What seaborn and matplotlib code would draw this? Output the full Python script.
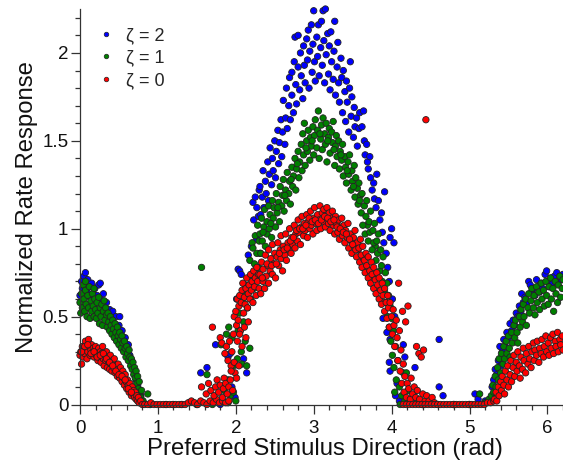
import matplotlib
matplotlib.use("Agg")
import matplotlib.pyplot as plt
from matplotlib.lines import Line2D
from matplotlib.ticker import MultipleLocator, FuncFormatter
import seaborn as sns
import pandas as pd

# Measured responses (preferred direction in rad, normalized rate) for each zeta
zeta2_points = [
    (0.00, 0.62), (0.02, 0.70), (0.03, 0.66), (0.05, 0.73), (0.06, 0.68), (0.07, 0.75), (0.09, 0.64),
    (0.10, 0.71), (0.12, 0.67), (0.13, 0.61), (0.15, 0.69), (0.17, 0.63), (0.19, 0.66), (0.20, 0.59),
    (0.22, 0.62), (0.24, 0.68), (0.26, 0.60), (0.28, 0.57), (0.30, 0.63), (0.32, 0.55), (0.34, 0.58),
    (0.36, 0.52), (0.38, 0.54), (0.40, 0.49), (0.42, 0.53), (0.44, 0.46), (0.46, 0.50), (0.48, 0.43),
    (0.50, 0.45), (0.52, 0.40), (0.54, 0.42), (0.56, 0.36), (0.58, 0.38), (0.60, 0.32), (0.62, 0.34),
    (0.64, 0.28), (0.66, 0.25), (0.68, 0.21), (0.70, 0.18), (0.72, 0.14), (0.74, 0.11), (0.76, 0.08),
    (0.78, 0.05), (0.80, 0.02), (0.26, 0.69), (0.51, 0.50),
    (0.90, 0.00), (1.20, 0.00), (1.50, 0.00), (1.80, 0.00),
    (1.55, 0.18), (1.63, 0.21), (1.74, 0.34),
    (1.90, 0.27), (1.93, 0.29), (1.95, 0.10), (1.99, 0.04), (2.01, 0.60), (2.03, 0.77), (2.05, 0.76),
    (2.07, 0.74), (2.10, 0.26), (2.14, 0.18), (2.12, 0.68), (2.16, 0.85), (2.20, 0.90), (2.22, 1.15),
    (2.23, 1.05), (2.25, 1.18), (2.27, 1.12), (2.27, 0.94), (2.29, 1.07), (2.31, 0.86), (2.30, 1.22),
    (2.31, 1.24), (2.32, 1.08), (2.34, 1.18), (2.35, 1.33), (2.36, 1.12), (2.38, 1.27), (2.39, 1.20),
    (2.41, 1.38), (2.42, 1.16), (2.43, 1.31), (2.44, 1.46), (2.46, 1.25), (2.47, 1.40), (2.48, 1.33),
    (2.50, 1.50), (2.51, 1.29), (2.52, 1.44), (2.54, 1.56), (2.55, 1.37), (2.56, 1.49), (2.58, 1.62),
    (2.59, 1.41), (2.60, 1.55), (2.61, 1.73), (2.63, 1.48), (2.64, 1.63), (2.65, 1.80), (2.66, 1.57),
    (2.68, 1.70), (2.69, 1.86), (2.70, 1.62), (2.72, 1.89), (2.72, 1.76), (2.74, 1.66), (2.75, 1.95),
    (2.76, 2.09), (2.77, 1.82), (2.78, 1.71), (2.80, 2.10), (2.80, 1.92), (2.82, 1.79), (2.83, 2.00),
    (2.84, 1.87), (2.86, 1.74), (2.87, 2.04), (2.88, 1.93), (2.89, 1.83), (2.91, 2.08), (2.92, 1.96),
    (2.93, 2.13), (2.94, 1.80), (2.95, 2.01), (2.97, 2.16), (2.98, 1.89), (2.99, 2.05), (3.00, 2.24),
    (3.01, 1.95), (3.02, 1.84), (3.04, 2.09), (3.05, 1.98), (3.06, 2.16), (3.07, 1.87), (3.09, 2.03),
    (3.10, 2.18), (3.11, 1.93), (3.12, 2.24), (3.13, 2.07), (3.14, 1.83), (3.15, 2.25), (3.16, 1.99),
    (3.18, 2.11), (3.19, 1.88), (3.20, 2.04), (3.21, 1.79), (3.22, 2.12), (3.23, 1.95), (3.25, 1.85),
    (3.26, 2.01), (3.27, 2.18), (3.28, 1.76), (3.30, 1.92), (3.31, 2.06), (3.32, 1.83), (3.33, 1.72),
    (3.35, 1.97), (3.36, 1.86), (3.37, 1.66), (3.38, 1.90), (3.40, 1.78), (3.41, 1.61), (3.42, 1.84),
    (3.43, 1.72), (3.45, 1.55), (3.46, 1.80), (3.47, 1.95), (3.48, 1.64), (3.49, 1.75), (3.51, 1.52),
    (3.52, 1.69), (3.53, 1.58), (3.55, 1.63), (3.56, 1.47), (3.58, 1.57), (3.59, 1.66),
    (3.62, 1.58), (3.64, 1.67), (3.65, 1.50), (3.66, 1.42), (3.68, 1.48), (3.69, 1.38), (3.70, 1.34),
    (3.72, 1.41), (3.73, 1.29), (3.75, 1.22), (3.77, 1.26), (3.78, 1.17), (3.80, 1.12), (3.81, 1.31),
    (3.83, 1.16), (3.85, 1.05), (3.87, 1.09), (3.88, 0.98), (3.90, 0.92), (3.91, 1.21), (3.93, 0.86),
    (3.95, 0.78), (3.97, 0.70), (3.98, 0.95), (4.00, 1.00), (4.01, 0.60), (4.03, 0.92), (4.04, 0.50),
    (3.89, 0.49), (3.94, 0.41), (3.98, 0.37), (3.97, 0.24), (3.98, 0.19), (4.05, 0.05), (4.15, 0.34),
    (4.17, 0.27), (4.30, 0.21), (4.07, 0.12), (4.10, 0.02),
    (4.61, 0.37), (4.61, 0.10), (4.66, 0.05), (4.40, 0.00), (4.80, 0.00), (5.00, 0.00), (5.07, 0.06),
    (5.11, 0.03), (5.20, 0.02),
    (5.29, 0.10), (5.31, 0.14), (5.33, 0.20), (5.35, 0.17), (5.37, 0.25), (5.39, 0.33), (5.40, 0.22),
    (5.42, 0.30), (5.44, 0.37), (5.46, 0.33), (5.48, 0.41), (5.50, 0.38), (5.52, 0.46), (5.54, 0.42),
    (5.56, 0.48), (5.58, 0.45), (5.60, 0.52), (5.62, 0.50), (5.64, 0.56), (5.66, 0.53), (5.67, 0.63),
    (5.69, 0.58), (5.71, 0.61), (5.73, 0.57), (5.76, 0.70), (5.78, 0.68), (5.80, 0.64), (5.82, 0.66),
    (5.84, 0.62), (5.86, 0.71), (5.88, 0.67), (5.90, 0.64), (5.92, 0.69), (5.94, 0.66), (5.97, 0.74),
    (5.99, 0.76), (6.01, 0.70), (6.03, 0.67), (6.05, 0.72), (6.07, 0.69), (6.09, 0.73), (6.12, 0.75),
    (6.14, 0.70), (6.16, 0.73), (6.18, 0.71), (6.20, 0.74),
]

zeta1_points = [
    (0.00, 0.58), (0.01, 0.52), (0.02, 0.63), (0.03, 0.55), (0.04, 0.68), (0.05, 0.60), (0.06, 0.53),
    (0.07, 0.65), (0.08, 0.57), (0.09, 0.50), (0.10, 0.62), (0.11, 0.55), (0.12, 0.67), (0.13, 0.49),
    (0.14, 0.59), (0.15, 0.53), (0.16, 0.63), (0.17, 0.56), (0.18, 0.50), (0.19, 0.60), (0.20, 0.54),
    (0.21, 0.49), (0.22, 0.58), (0.23, 0.52), (0.24, 0.61), (0.25, 0.46), (0.26, 0.55), (0.27, 0.50),
    (0.28, 0.57), (0.29, 0.45), (0.30, 0.53), (0.31, 0.59), (0.32, 0.48), (0.33, 0.55), (0.34, 0.51),
    (0.35, 0.44), (0.36, 0.52), (0.37, 0.47), (0.38, 0.42), (0.39, 0.50), (0.40, 0.45), (0.41, 0.40),
    (0.42, 0.48), (0.43, 0.43), (0.44, 0.38), (0.45, 0.46), (0.46, 0.41), (0.47, 0.36), (0.48, 0.44),
    (0.49, 0.39), (0.50, 0.34), (0.51, 0.41), (0.52, 0.37), (0.53, 0.32), (0.54, 0.39), (0.55, 0.35),
    (0.56, 0.30), (0.57, 0.36), (0.58, 0.32), (0.59, 0.27), (0.60, 0.33), (0.61, 0.29), (0.62, 0.25),
    (0.63, 0.31), (0.64, 0.27), (0.65, 0.22), (0.66, 0.26), (0.67, 0.20), (0.68, 0.24), (0.69, 0.17),
    (0.70, 0.21), (0.71, 0.15), (0.72, 0.19), (0.73, 0.12), (0.74, 0.16), (0.75, 0.09), (0.76, 0.13),
    (0.77, 0.06), (0.78, 0.04), (0.79, 0.08), (0.81, 0.02), (0.87, 0.06), (0.18, 0.66), (0.07, 0.70),
    (0.90, 0.00), (1.10, 0.00), (1.30, 0.00), (1.50, 0.00), (1.70, 0.00), (1.90, 0.01),
    (1.56, 0.78), (1.63, 0.17),
    (1.81, 0.34), (1.85, 0.08), (1.88, 0.40), (1.90, 0.14), (1.91, 0.44), (1.93, 0.05), (1.95, 0.38),
    (1.97, 0.07), (1.97, 0.22), (2.00, 0.02), (2.02, 0.26), (2.03, 0.42), (2.05, 0.52), (2.07, 0.30),
    (2.08, 0.23), (2.09, 0.58), (2.10, 0.47), (2.12, 0.62), (2.14, 0.22), (2.15, 0.55), (2.17, 0.68),
    (2.18, 0.82), (2.19, 0.60), (2.20, 0.73), (2.21, 0.92), (2.22, 0.89), (2.23, 0.66), (2.24, 0.80),
    (2.25, 0.96), (2.26, 0.72), (2.27, 0.86), (2.28, 1.02), (2.29, 0.78), (2.30, 0.93), (2.18, 0.32),
    (2.12, 0.36),
    (2.31, 0.97), (2.32, 0.86), (2.33, 1.06), (2.34, 0.93), (2.36, 1.01), (2.37, 1.11), (2.38, 0.90),
    (2.40, 1.04), (2.40, 0.97), (2.42, 1.13), (2.43, 1.00), (2.44, 1.08), (2.46, 0.95), (2.47, 1.16),
    (2.48, 1.06), (2.49, 1.12), (2.51, 1.01), (2.52, 1.20), (2.53, 1.09), (2.55, 1.15), (2.56, 1.04),
    (2.57, 1.24), (2.59, 1.13), (2.60, 1.19), (2.61, 1.28), (2.62, 1.10), (2.64, 1.22), (2.65, 1.16),
    (2.66, 1.32), (2.68, 1.20), (2.69, 1.27), (2.70, 1.14), (2.72, 1.35), (2.73, 1.24), (2.74, 1.30),
    (2.76, 1.40), (2.77, 1.22), (2.78, 1.34), (2.80, 1.44), (2.81, 1.29), (2.82, 1.38), (2.84, 1.48),
    (2.85, 1.33), (2.86, 1.54), (2.87, 1.42), (2.88, 1.60), (2.89, 1.36), (2.91, 1.50), (2.92, 1.44),
    (2.93, 1.56), (2.95, 1.39), (2.96, 1.52), (2.97, 1.47), (2.99, 1.58), (3.00, 1.42), (3.01, 1.53),
    (3.02, 1.62), (3.04, 1.46), (3.05, 1.56), (3.06, 1.67), (3.07, 1.40), (3.09, 1.51), (3.10, 1.59),
    (3.11, 1.45), (3.12, 1.63), (3.14, 1.54), (3.15, 1.48), (3.16, 1.60), (3.17, 1.38), (3.19, 1.52),
    (3.20, 1.57), (3.21, 1.43), (3.23, 1.55), (3.24, 1.49), (3.25, 1.61), (3.27, 1.36), (3.28, 1.47),
    (3.29, 1.53), (3.30, 1.41), (3.32, 1.50), (3.33, 1.34), (3.34, 1.44), (3.36, 1.39), (3.37, 1.48),
    (3.38, 1.30), (3.40, 1.41), (3.41, 1.35), (3.42, 1.26), (3.44, 1.38), (3.45, 1.31), (3.46, 1.42),
    (3.48, 1.22), (3.49, 1.33), (3.50, 1.27), (3.52, 1.36), (3.53, 1.18), (3.54, 1.29), (3.56, 1.23),
    (3.57, 1.14), (3.58, 1.26), (3.60, 1.19),
    (2.35, 0.98), (2.45, 1.03), (2.54, 1.12), (2.63, 1.19), (2.71, 1.28), (2.79, 1.37), (2.90, 1.46),
    (2.98, 1.50), (3.08, 1.54), (3.18, 1.50), (3.26, 1.45), (3.35, 1.42), (3.43, 1.33), (3.51, 1.24),
    (3.59, 1.16), (3.69, 1.02), (3.79, 0.90),
    (3.61, 1.09), (3.62, 1.20), (3.63, 1.02), (3.65, 1.13), (3.66, 0.97), (3.67, 1.07), (3.68, 1.16),
    (3.70, 0.93), (3.71, 1.04), (3.72, 0.98), (3.73, 1.10), (3.75, 0.88), (3.76, 0.99), (3.77, 0.92),
    (3.78, 1.03), (3.80, 0.82), (3.81, 0.93), (3.82, 0.86), (3.83, 0.97), (3.85, 0.76), (3.86, 0.88),
    (3.87, 0.79), (3.88, 0.70), (3.89, 0.84), (3.91, 0.64), (3.92, 0.75), (3.93, 0.58), (3.94, 0.69),
    (3.95, 0.50), (3.96, 0.62), (3.97, 0.44), (3.98, 0.56), (3.99, 0.36), (4.00, 0.49), (4.01, 0.28),
    (4.02, 0.42), (4.03, 0.21), (4.04, 0.07), (4.05, 0.33), (4.06, 0.14), (4.08, 0.25), (4.10, 0.10),
    (4.11, 0.00), (4.13, 0.05), (4.15, 0.18), (4.17, 0.02), (4.19, 0.18), (4.21, 0.08), (4.24, 0.03),
    (4.28, 0.05), (4.33, 0.02),
    (4.40, 0.00), (4.60, 0.00), (4.80, 0.00), (5.00, 0.00), (5.13, 0.06), (5.20, 0.01), (5.25, 0.03),
    (5.28, 0.05), (5.30, 0.11), (5.31, 0.07), (5.33, 0.16), (5.34, 0.10), (5.36, 0.21), (5.37, 0.14),
    (5.38, 0.26), (5.40, 0.18), (5.41, 0.29), (5.43, 0.23), (5.44, 0.33), (5.45, 0.26), (5.47, 0.36),
    (5.48, 0.29), (5.50, 0.39), (5.51, 0.32), (5.52, 0.27), (5.54, 0.41), (5.55, 0.35), (5.57, 0.45),
    (5.58, 0.38), (5.59, 0.48), (5.61, 0.41), (5.62, 0.35), (5.64, 0.50), (5.65, 0.44), (5.66, 0.54),
    (5.68, 0.47), (5.69, 0.57), (5.70, 0.50), (5.72, 0.60), (5.73, 0.45), (5.75, 0.55), (5.76, 0.63),
    (5.77, 0.52), (5.79, 0.59), (5.80, 0.66), (5.82, 0.55), (5.83, 0.62), (5.84, 0.51), (5.86, 0.67),
    (5.87, 0.58), (5.89, 0.64), (5.90, 0.54), (5.92, 0.69), (5.93, 0.60), (5.95, 0.65), (5.96, 0.56),
    (5.98, 0.70), (5.99, 0.62), (6.01, 0.57), (6.02, 0.67), (6.04, 0.72), (6.05, 0.60), (6.07, 0.66),
    (6.08, 0.53), (6.10, 0.70), (6.11, 0.63), (6.13, 0.58), (6.14, 0.68), (6.16, 0.73), (6.17, 0.61),
    (6.19, 0.66), (6.20, 0.71),
]

zeta0_points = [
    (0.00, 0.28), (0.01, 0.30), (0.02, 0.23), (0.03, 0.33), (0.04, 0.27), (0.05, 0.31), (0.06, 0.29),
    (0.07, 0.36), (0.08, 0.32), (0.09, 0.26), (0.10, 0.30), (0.11, 0.37), (0.12, 0.33), (0.13, 0.28),
    (0.14, 0.31), (0.15, 0.34), (0.16, 0.29), (0.17, 0.32), (0.18, 0.27), (0.19, 0.31), (0.20, 0.33),
    (0.21, 0.28), (0.22, 0.30), (0.23, 0.25), (0.24, 0.32), (0.25, 0.27), (0.26, 0.30), (0.27, 0.24),
    (0.28, 0.29), (0.29, 0.33), (0.30, 0.26), (0.31, 0.22), (0.32, 0.28), (0.33, 0.25), (0.34, 0.30),
    (0.35, 0.21), (0.36, 0.27), (0.37, 0.24), (0.38, 0.20), (0.39, 0.28), (0.40, 0.23), (0.41, 0.19),
    (0.42, 0.25), (0.43, 0.21), (0.44, 0.26), (0.45, 0.18), (0.46, 0.22), (0.47, 0.20), (0.48, 0.16),
    (0.49, 0.23), (0.50, 0.19), (0.51, 0.15), (0.52, 0.21), (0.53, 0.17), (0.54, 0.13), (0.55, 0.19),
    (0.56, 0.15), (0.57, 0.11), (0.58, 0.17), (0.59, 0.13), (0.60, 0.09), (0.61, 0.14), (0.62, 0.11),
    (0.63, 0.07), (0.64, 0.12), (0.65, 0.09), (0.66, 0.05), (0.67, 0.10), (0.68, 0.06), (0.69, 0.08),
    (0.70, 0.04), (0.71, 0.07), (0.72, 0.03), (0.73, 0.05), (0.74, 0.02), (0.75, 0.04), (0.76, 0.01),
    (0.78, 0.02), (0.80, 0.00),
    (0.02, 0.30), (0.06, 0.33), (0.10, 0.34), (0.14, 0.29), (0.18, 0.30), (0.22, 0.27), (0.26, 0.28),
    (0.30, 0.29), (0.34, 0.26), (0.38, 0.24), (0.42, 0.22), (0.46, 0.19), (0.50, 0.17), (0.54, 0.16),
    (0.58, 0.14), (0.62, 0.09), (0.66, 0.07),
    (0.83, 0.00), (0.87, 0.00), (0.91, 0.01), (0.95, 0.00), (0.99, 0.00), (1.03, 0.00), (1.07, 0.00),
    (1.11, 0.00), (1.15, 0.00), (1.19, 0.00), (1.23, 0.00), (1.27, 0.00), (1.31, 0.00), (1.35, 0.00),
    (1.39, 0.01), (1.43, 0.02), (1.47, 0.01), (1.51, 0.00), (1.55, 0.02), (1.59, 0.01), (1.63, 0.00),
    (1.67, 0.02), (1.71, 0.01), (1.75, 0.03), (1.79, 0.01), (1.83, 0.02), (1.87, 0.01), (1.91, 0.02),
    (1.56, 0.10), (1.62, 0.06), (1.65, 0.12), (1.68, 0.08), (1.70, 0.44), (1.72, 0.05), (1.74, 0.10),
    (1.76, 0.14), (1.78, 0.07), (1.80, 0.38), (1.80, 0.11), (1.82, 0.35), (1.83, 0.04), (1.84, 0.09),
    (1.85, 0.15), (1.86, 0.29), (1.87, 0.12), (1.88, 0.33), (1.89, 0.06), (1.90, 0.25), (1.91, 0.10),
    (1.92, 0.36), (1.93, 0.14), (1.94, 0.22), (1.95, 0.30), (1.96, 0.08), (1.97, 0.40), (1.98, 0.50),
    (1.99, 0.18), (2.00, 0.53), (2.01, 0.45), (2.02, 0.60), (2.03, 0.48), (2.04, 0.56), (2.05, 0.62),
    (2.06, 0.42), (2.07, 0.58), (2.08, 0.65), (2.09, 0.69), (2.10, 0.52), (2.11, 0.61), (2.12, 0.57),
    (2.13, 0.66), (2.14, 0.72), (2.15, 0.55), (2.16, 0.63), (2.17, 0.68), (2.18, 0.60), (2.19, 0.74),
    (2.20, 0.65), (2.21, 0.70), (2.22, 0.58), (2.23, 0.76), (2.24, 0.67), (2.25, 0.72), (2.26, 0.62),
    (2.27, 0.78), (2.28, 0.70), (2.29, 0.74), (2.30, 0.66), (2.02, 0.36), (2.05, 0.40), (2.08, 0.33),
    (2.11, 0.44), (2.13, 0.38), (2.16, 0.47), (1.94, 0.19), (1.98, 0.24), (2.01, 0.15), (2.04, 0.22),
    (2.31, 0.74), (2.32, 0.63), (2.33, 0.81), (2.35, 0.70), (2.35, 0.77), (2.37, 0.66), (2.38, 0.85),
    (2.39, 0.73), (2.41, 0.79), (2.42, 0.88), (2.42, 0.69), (2.44, 0.76), (2.45, 0.83), (2.47, 0.74),
    (2.47, 0.91), (2.49, 0.80), (2.50, 0.86), (2.51, 0.72), (2.53, 0.84), (2.54, 0.92), (2.55, 0.79),
    (2.57, 0.88), (2.58, 0.83), (2.58, 0.96), (2.60, 0.76), (2.61, 0.90), (2.63, 0.85), (2.64, 0.97),
    (2.65, 0.82), (2.67, 0.92), (2.68, 0.88), (2.69, 1.00), (2.71, 0.86), (2.72, 0.95), (2.73, 0.91),
    (2.75, 1.02), (2.76, 0.89), (2.77, 0.97), (2.79, 0.93), (2.80, 1.05), (2.81, 0.98), (2.83, 0.91),
    (2.84, 1.01), (2.85, 1.07), (2.87, 0.96), (2.88, 1.03), (2.89, 0.99), (2.91, 1.08), (2.92, 0.95),
    (2.93, 1.04), (2.95, 1.00), (2.96, 1.10), (2.97, 1.02), (2.99, 0.97), (3.00, 1.06), (3.01, 1.12),
    (3.03, 1.03), (3.04, 0.99), (3.05, 1.08), (3.07, 1.05), (3.08, 1.13), (3.09, 1.00), (3.11, 1.09),
    (3.12, 1.04), (3.13, 1.11), (3.15, 1.01), (3.16, 1.07), (3.17, 1.12), (3.19, 1.03), (3.20, 1.09),
    (3.21, 0.99), (3.23, 1.06), (3.24, 1.10), (3.25, 1.02), (3.27, 0.97), (3.28, 1.07), (3.29, 1.03),
    (3.31, 0.98), (3.32, 1.05), (3.33, 0.94), (3.35, 1.01), (3.36, 1.06), (3.37, 0.96), (3.39, 1.02),
    (3.40, 0.92), (3.41, 0.99), (3.43, 0.95), (3.44, 1.03), (3.45, 0.89), (3.47, 0.97), (3.48, 0.93),
    (3.49, 0.86), (3.51, 0.95), (3.52, 0.90), (3.53, 0.99), (3.55, 0.84), (3.56, 0.92), (3.57, 0.88),
    (3.59, 0.81), (3.60, 0.94),
    (2.34, 0.72), (2.40, 0.80), (2.46, 0.79), (2.52, 0.80), (2.56, 0.86), (2.62, 0.88), (2.66, 0.89),
    (2.70, 0.93), (2.74, 0.95), (2.78, 0.99), (2.82, 1.00), (2.86, 1.00), (2.90, 1.02), (2.94, 1.06),
    (2.98, 1.04), (3.02, 1.05), (3.06, 1.03), (3.10, 1.05), (3.14, 1.07), (3.18, 1.06), (3.22, 1.04),
    (3.26, 1.05), (3.30, 1.01), (3.34, 1.00), (3.38, 0.98), (3.42, 0.97), (3.46, 0.94), (3.50, 0.91),
    (3.54, 0.88), (3.58, 0.89), (3.64, 0.83), (3.69, 0.77), (3.76, 0.72), (3.83, 0.65), (3.90, 0.58),
    (3.61, 0.85), (3.62, 0.78), (3.63, 0.90), (3.65, 0.82), (3.66, 0.75), (3.67, 0.86), (3.68, 0.79),
    (3.70, 0.72), (3.70, 0.84), (3.72, 0.76), (3.73, 0.69), (3.74, 0.81), (3.75, 0.74), (3.77, 0.66),
    (3.77, 0.78), (3.79, 0.71), (3.80, 0.63), (3.81, 0.75), (3.82, 0.68), (3.84, 0.60), (3.84, 0.72),
    (3.86, 0.65), (3.87, 0.57), (3.88, 0.69), (3.89, 0.62), (3.91, 0.53), (3.91, 0.66), (3.93, 0.58),
    (3.94, 0.49), (3.95, 0.62), (3.96, 0.55), (3.97, 0.44), (3.98, 0.58), (4.00, 0.50), (4.01, 0.40),
    (4.02, 0.54), (4.03, 0.45), (4.04, 0.33), (4.06, 0.48), (4.07, 0.38), (4.08, 0.25), (4.09, 0.69),
    (4.10, 0.42), (4.11, 0.19), (4.12, 0.31), (4.13, 0.12), (4.14, 0.53), (4.15, 0.23), (4.16, 0.07),
    (4.17, 0.16), (4.18, 0.47), (4.19, 0.04), (4.20, 0.12), (4.21, 0.56), (4.22, 0.09), (4.24, 0.03),
    (4.25, 0.15), (4.27, 0.06), (4.29, 0.10), (4.31, 0.04), (4.32, 0.33), (4.33, 0.08), (4.35, 0.29),
    (4.36, 0.03), (4.38, 0.27), (4.40, 0.06), (4.41, 0.31), (4.43, 0.02), (4.45, 0.05), (4.48, 0.02),
    (4.52, 0.04), (4.55, 0.01), (4.44, 1.62),
    (4.15, 0.00), (4.19, 0.00), (4.23, 0.00), (4.27, 0.00), (4.31, 0.00), (4.35, 0.00), (4.39, 0.00),
    (4.43, 0.00), (4.47, 0.00), (4.51, 0.00), (4.55, 0.00), (4.59, 0.00), (4.63, 0.00), (4.67, 0.00),
    (4.71, 0.00), (4.75, 0.00), (4.79, 0.00), (4.83, 0.00), (4.87, 0.00), (4.91, 0.00), (4.95, 0.00),
    (4.99, 0.00), (5.03, 0.00), (5.07, 0.00), (5.11, 0.00), (5.15, 0.00), (5.19, 0.00), (5.23, 0.01),
    (5.27, 0.01), (5.31, 0.02),
    (5.32, 0.03), (5.34, 0.07), (5.35, 0.02), (5.37, 0.10), (5.38, 0.05), (5.40, 0.13), (5.41, 0.08),
    (5.42, 0.16), (5.44, 0.11), (5.45, 0.06), (5.46, 0.19), (5.48, 0.14), (5.49, 0.22), (5.50, 0.10),
    (5.52, 0.17), (5.53, 0.25), (5.54, 0.13), (5.56, 0.21), (5.57, 0.28), (5.58, 0.16), (5.60, 0.24),
    (5.61, 0.19), (5.62, 0.30), (5.64, 0.22), (5.65, 0.15), (5.66, 0.27), (5.68, 0.20), (5.69, 0.32),
    (5.70, 0.25), (5.72, 0.18), (5.73, 0.29), (5.75, 0.23), (5.76, 0.33), (5.77, 0.26), (5.79, 0.21),
    (5.80, 0.30), (5.82, 0.35), (5.83, 0.25), (5.84, 0.31), (5.86, 0.28), (5.87, 0.36), (5.89, 0.24),
    (5.90, 0.32), (5.92, 0.29), (5.93, 0.37), (5.95, 0.27), (5.96, 0.33), (5.98, 0.39), (5.99, 0.30),
    (6.01, 0.35), (6.02, 0.28), (6.04, 0.38), (6.05, 0.32), (6.07, 0.40), (6.08, 0.29), (6.10, 0.36),
    (6.11, 0.33), (6.13, 0.41), (6.14, 0.30), (6.16, 0.37), (6.17, 0.34), (6.19, 0.39), (6.20, 0.31),
]

series_labels = ["ζ = 2", "ζ = 1", "ζ = 0"]
series_colors = ["#0000ff", "#007f00", "#ff0000"]
x_ticks = [0, 1, 2, 3, 4, 5, 6]
y_ticks = [0, 0.5, 1, 1.5, 2]

frames = []
for label, pts in zip(series_labels, [zeta2_points, zeta1_points, zeta0_points]):
    df = pd.DataFrame(pts, columns=["direction", "rate"])
    df["zeta"] = label
    frames.append(df)
data = pd.concat(frames, ignore_index=True)

sns.set_style("ticks")
plt.rcParams["font.family"] = ["Liberation Sans", "DejaVu Sans"]

fig = plt.figure(figsize=(5.63, 4.63), dpi=100)
ax = fig.add_axes([80 / 563, (463 - 404.5) / 463, 483 / 563, 395.5 / 463])

edge = "#222222"
sns.scatterplot(
    data=data, x="direction", y="rate", hue="zeta",
    hue_order=series_labels, palette=series_colors,
    s=21, edgecolor=edge, linewidth=0.6, ax=ax, clip_on=False, legend=False,
)

ax.set_xlim(0, 6.2)
ax.set_ylim(0, 2.25)
ax.set_xticks(x_ticks)
ax.set_yticks(y_ticks)
ax.xaxis.set_minor_locator(MultipleLocator(0.2))
ax.yaxis.set_minor_locator(MultipleLocator(0.1))
ax.yaxis.set_major_formatter(FuncFormatter(lambda v, p: f"{v:g}"))
ax.tick_params(axis="both", which="major", length=6.5, width=0.9, color="#333333",
               labelsize=13.5, labelcolor="#111111")
ax.tick_params(axis="both", which="minor", length=3.6, width=0.9, color="#333333")
ax.tick_params(axis="x", which="major", pad=4.5)
ax.tick_params(axis="y", which="major", pad=1.8)
for side in ("top", "right"):
    ax.spines[side].set_visible(False)
for side in ("left", "bottom"):
    ax.spines[side].set_linewidth(0.9)
    ax.spines[side].set_color("#333333")

ax.set_xlabel("Preferred Stimulus Direction (rad)", fontsize=17.2, color="#111111")
ax.set_ylabel("Normalized Rate Response", fontsize=17.2, color="#111111")
ax.xaxis.set_label_coords(0.507, -0.084)
ax.xaxis.label.set_va("top")
ax.yaxis.set_label_coords(-0.087, 0.5)

handles = [
    Line2D([], [], linestyle="none", marker="o", markersize=3.3,
           markerfacecolor=c, markeredgecolor=edge, markeredgewidth=0.5)
    for c in series_colors
]
ax.legend(
    handles, series_labels, loc="upper left", bbox_to_anchor=(97 / 563, (463 - 27) / 463),
    bbox_transform=fig.transFigure, frameon=False, fontsize=13, borderpad=0,
    handlelength=1.0, handletextpad=0.61, labelspacing=0.31, borderaxespad=0,
)

fig.savefig("out.png", dpi=100)
